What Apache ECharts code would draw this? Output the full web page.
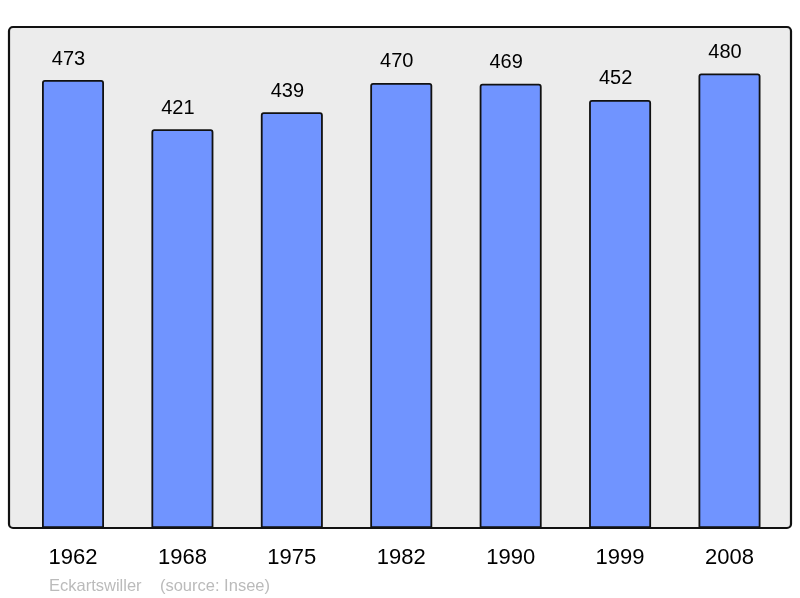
<!DOCTYPE html>
<html>
<head>
<meta charset="utf-8">
<script src="https://cdn.jsdelivr.net/npm/echarts@6/dist/echarts.min.js"></script>
<style>html,body{margin:0;padding:0;background:#fff;}#c{width:800px;height:598px;}</style>
</head>
<body>
<div id="c"></div>
<script>
var years = ['1962', '1968', '1975', '1982', '1990', '1999', '2008'];
var population = [473, 421, 439, 470, 469, 452, 480];
var footerText = 'Eckartswiller    (source: Insee)';

var chart = echarts.init(document.getElementById('c'), null, {renderer: 'canvas'});
chart.setOption({
  animation: false,
  backgroundColor: '#ffffff',
  title: {
    text: footerText,
    left: 44,
    top: 573,
    textStyle: {fontFamily: 'Liberation Sans', fontSize: 16.5, fontWeight: 'normal', color: '#bbbbbb'}
  },
  graphic: [
    {type: 'rect', z: -10, silent: true,
     shape: {x: 9, y: 27, width: 782, height: 501, r: 4},
     style: {fill: '#ececec', stroke: null}},
    {type: 'rect', z: 100, silent: true,
     shape: {x: 9, y: 27, width: 782, height: 501, r: 4},
     style: {fill: null, stroke: '#111111', lineWidth: 2.2}}
  ],
  grid: {left: 18.3, right: 15.8, top: 27, bottom: 70, containLabel: false},
  xAxis: {
    type: 'category',
    data: years,
    boundaryGap: true,
    axisLine: {show: false},
    axisTick: {show: false},
    axisLabel: {fontFamily: 'Liberation Sans', fontSize: 22, color: '#000', margin: 19}
  },
  yAxis: {
    type: 'value', min: 0, max: 529,
    show: false,
    splitLine: {show: false}
  },
  series: [{
    type: 'bar',
    data: population,
    barWidth: 62,
    itemStyle: {color: '#7094ff', borderColor: '#111111', borderWidth: 1.8, borderRadius: [2, 2, 0, 0]},
    label: {show: true, position: 'top', distance: 11, offset: [-4.5, 0], fontFamily: 'Liberation Sans', fontSize: 20, color: '#000'}
  }]
});
</script>
</body>
</html>
